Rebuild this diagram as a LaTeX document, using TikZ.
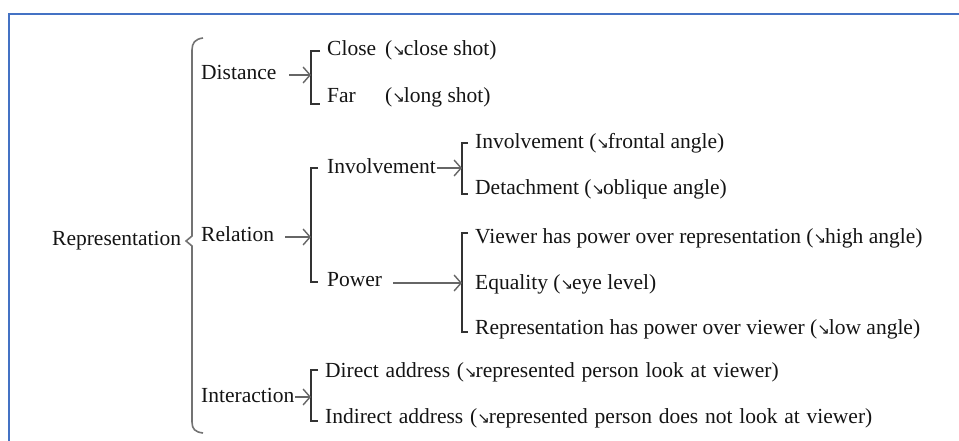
\documentclass[tikz,border=0pt]{standalone}
\usepackage{fontspec}
\setmainfont{Liberation Serif}
\newfontfamily\txtfont{Liberation Serif}
\newfontfamily\arrfont{DejaVu Sans}
\usetikzlibrary{arrows.meta}
\newcommand{\sarr}{{\arrfont\fontsize{15}{15}\selectfont\raisebox{0pt}{↘}}\kern-1pt}
\newcommand{\widesp}{\spaceskip=6.8pt plus 1pt\relax}
\definecolor{frameblue}{HTML}{4472C4}
\begin{document}
\begin{tikzpicture}[x=1pt,y=-1pt,
 txt/.style={anchor=west,inner sep=0pt,font=\txtfont\fontsize{21.5}{25}\selectfont,text=black!92},
 arr/.style={draw=black!60,line width=1.4pt,-{Straight Barb[length=7pt,width=16pt,line width=1.4pt]}},
 brk/.style={draw=black!80,line width=1.2pt},
 brace/.style={draw=black!55,line width=1.6pt},
 frame/.style={draw=frameblue,line width=2.2pt}]
\path[use as bounding box] (0,0) rectangle (959,441);
\draw[frame] (9,441) -- (9,14) -- (959,14);
% texts
\node[txt] (rep) at (52,241) {Representation};
\node[txt] (dist) at (201,72) {Distance};
\node[txt] (rel) at (201,234) {Relation};
\node[txt] (inter) at (201,395) {Interaction};
\node[txt] (close) at (327,50) {\makebox[58pt][l]{Close}(\sarr close shot)};
\node[txt] (far) at (327,97) {\makebox[58pt][l]{Far}(\sarr long shot)};
\node[txt] (inv) at (327,166) {Involvement};
\node[txt] (pow) at (327,280) {Power};
\node[txt] (inv2) at (475,143) {Involvement (\sarr frontal angle)};
\node[txt] (det) at (475,189) {Detachment (\sarr oblique angle)};
\node[txt] (view) at (475,238) {Viewer has power over representation (\sarr high angle)};
\node[txt] (eq) at (475,284) {Equality (\sarr eye level)};
\node[txt] (rp) at (475,329) {Representation has power over viewer (\sarr low angle)};
\node[txt] (dir) at (325,372) {\widesp Direct address (\sarr represented person look at viewer)};
\node[txt] (ind) at (325,418) {\widesp Indirect address (\sarr represented person does not look at viewer)};
% big brace
\draw[brace] (203,38) .. controls (195,39) and (192,43) .. (192,50) -- (192,236) -- (186,241) -- (192,246) -- (192,422) .. controls (192,429) and (195,432) .. (203,433);
% bracket points
\coordinate (bD) at (311,75);
\coordinate (bR) at (311,237);
\coordinate (bI) at (462,168);
\coordinate (bP) at (462,283);
\coordinate (bX) at (311,397);
\coordinate (sD) at (289,75);
\coordinate (sR) at (285,237);
\coordinate (sI) at (437,168);
\coordinate (sP) at (393,283);
\coordinate (sX) at (295,397);
% brackets
\draw[brk] ([xshift=-7pt,yshift=-1pt]close.west) -| (bD) |- ([xshift=-7pt,yshift=-7pt]far.west);
\draw[brk] ([xshift=-9pt,yshift=-2pt]inv.west) -| (bR) |- ([xshift=-9pt,yshift=-2pt]pow.west);
\draw[brk] ([xshift=-7pt]inv2.west) -| (bI) |- ([xshift=-7pt,yshift=-5pt]det.west);
\draw[brk] ([xshift=-7pt,yshift=5pt]view.west) -| (bP) |- ([xshift=-7pt,yshift=-3pt]rp.west);
\draw[brk] ([xshift=-7pt,yshift=2pt]dir.west) -| (bX) |- ([xshift=-7pt,yshift=-3pt]ind.west);
% arrows
\draw[arr] (sD) -- (bD);
\draw[arr] (sR) -- (bR);
\draw[arr] (sI) -- (bI);
\draw[arr] (sP) -- (bP);
\draw[arr] (sX) -- (bX);
\end{tikzpicture}
\end{document}
